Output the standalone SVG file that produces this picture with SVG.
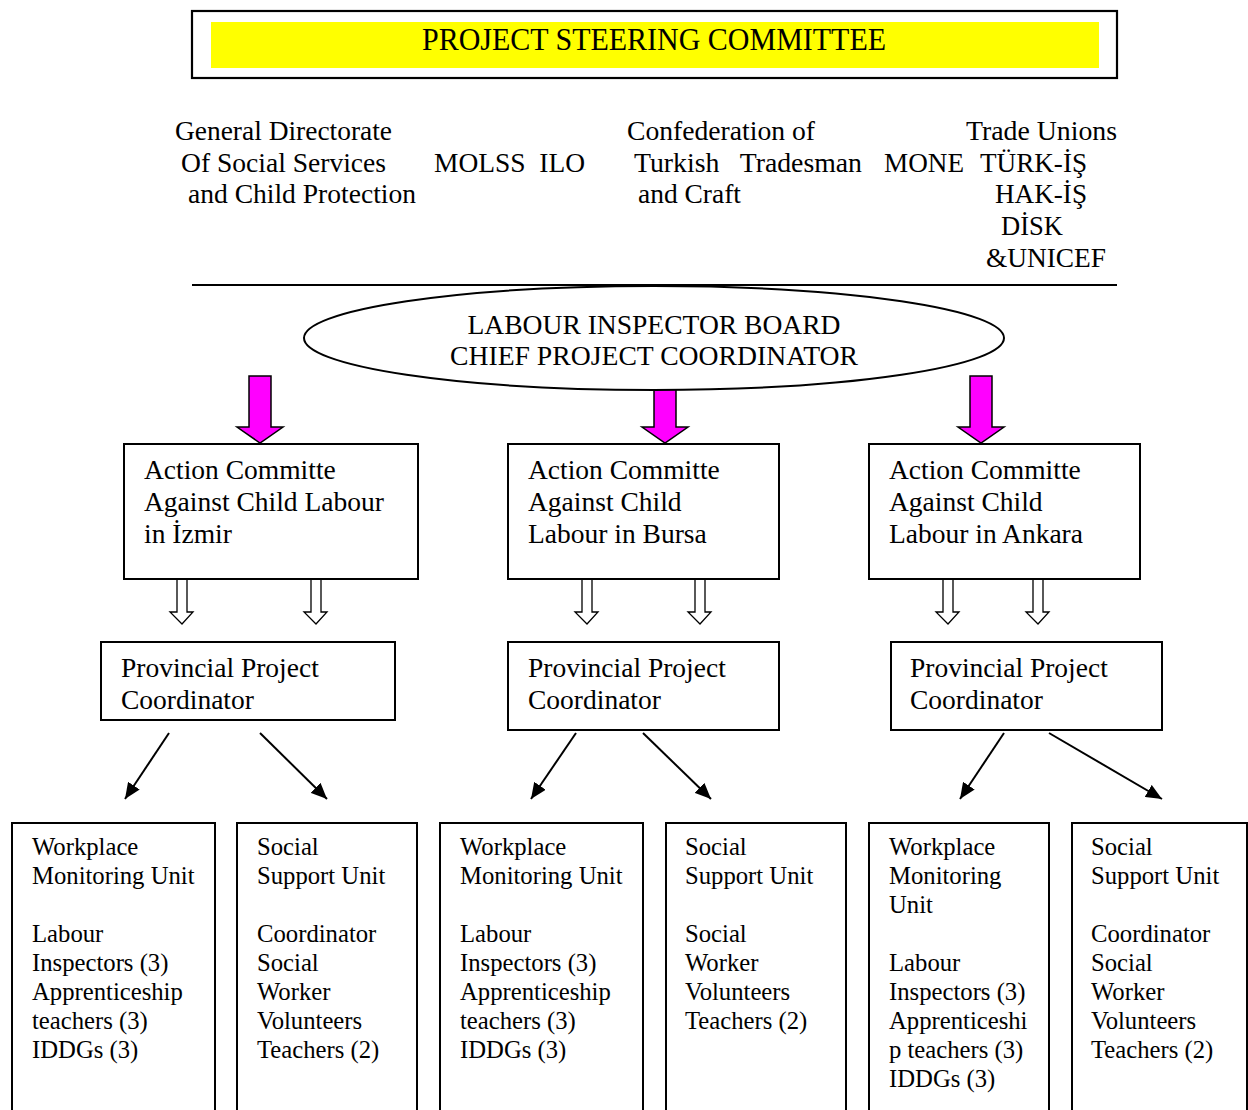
<svg xmlns="http://www.w3.org/2000/svg" width="1248" height="1110" viewBox="0 0 1248 1110" font-family="'Liberation Serif', 'Times New Roman', Times, 'DejaVu Serif', serif">
<style>
text{font-family:'Liberation Serif','Times New Roman',Times,'DejaVu Serif',serif;fill:#000}
.h{font-size:27px}
.t{font-size:27.5px}
.s{font-size:24.7px}
.box{fill:#fff;stroke:#000;stroke-width:2}
.mag{fill:#ff00ff;stroke:#000;stroke-width:1.5}
.hol{fill:#fff;stroke:#000;stroke-width:1.3}
.ln{stroke:#000;stroke-width:2;fill:none}
</style>
<defs>
<marker id="ah" markerUnits="userSpaceOnUse" markerWidth="18" markerHeight="14" refX="16" refY="7" orient="auto">
<path d="M0,0 L16,7 L0,14 Z" fill="#000"/>
</marker>
</defs>
<rect width="1248" height="1110" fill="#fff"/>

<g id="steering">
<rect x="192" y="11" width="925" height="67" fill="#fff" stroke="#000" stroke-width="2.2"/>
<rect x="211" y="22" width="888" height="46" fill="#ffff00"/>
<text x="422" y="50" font-size="32" textLength="464" lengthAdjust="spacingAndGlyphs">PROJECT STEERING COMMITTEE</text>
</g>

<g id="members" class="h">
<text class="h" x="175" y="140" textLength="217" lengthAdjust="spacingAndGlyphs">General Directorate</text>
<text class="h" x="181" y="172" textLength="205" lengthAdjust="spacingAndGlyphs">Of Social Services</text>
<text class="h" x="188" y="203" textLength="228" lengthAdjust="spacingAndGlyphs">and Child Protection</text>
<text class="h" x="434" y="172" textLength="151" lengthAdjust="spacingAndGlyphs" xml:space="preserve">MOLSS  ILO</text>
<text class="h" x="627" y="140" textLength="188" lengthAdjust="spacingAndGlyphs">Confederation of</text>
<text class="h" x="634" y="172" textLength="228" lengthAdjust="spacingAndGlyphs" xml:space="preserve">Turkish   Tradesman</text>
<text class="h" x="638" y="203" textLength="103" lengthAdjust="spacingAndGlyphs">and Craft</text>
<text class="h" x="884" y="172" textLength="80" lengthAdjust="spacingAndGlyphs">MONE</text>
<text class="h" x="966" y="140" textLength="151" lengthAdjust="spacingAndGlyphs">Trade Unions</text>
<text class="h" x="980" y="172" textLength="107" lengthAdjust="spacingAndGlyphs">TÜRK-İŞ</text>
<text class="h" x="995" y="203" textLength="92" lengthAdjust="spacingAndGlyphs">HAK-İŞ</text>
<text class="h" x="1001" y="235" textLength="62" lengthAdjust="spacingAndGlyphs">DİSK</text>
<text class="h" x="986" y="267" textLength="120" lengthAdjust="spacingAndGlyphs">&amp;UNICEF</text>
</g>

<g id="connectors">
<line x1="192" y1="285" x2="1117" y2="285" stroke="#000" stroke-width="2"/>
<polygon class="mag" points="249,376 271,376 271,427 283,427 260,443 237,427 249,427"/>
<polygon class="mag" points="654,380 676,380 676,427 688,427 665,443 642,427 654,427"/>
<polygon class="mag" points="970,376 992,376 992,427 1004,427 981,443 958,427 970,427"/>

<polygon class="hol" points="177,579 187,579 187,612 193,612 182,624 170,612 177,612"/>
<polygon class="hol" points="311,579 321,579 321,612 327,612 316,624 304,612 311,612"/>
<polygon class="hol" points="582,579 592,579 592,612 598,612 587,624 575,612 582,612"/>
<polygon class="hol" points="695,579 705,579 705,612 711,612 700,624 688,612 695,612"/>
<polygon class="hol" points="943,579 953,579 953,612 959,612 948,624 936,612 943,612"/>
<polygon class="hol" points="1033,579 1043,579 1043,612 1049,612 1038,624 1026,612 1033,612"/>

<line class="ln" x1="169" y1="733" x2="125" y2="799" marker-end="url(#ah)"/>
<line class="ln" x1="260" y1="733" x2="327" y2="799" marker-end="url(#ah)"/>
<line class="ln" x1="576" y1="733" x2="531" y2="799" marker-end="url(#ah)"/>
<line class="ln" x1="643" y1="733" x2="711" y2="799" marker-end="url(#ah)"/>
<line class="ln" x1="1004" y1="733" x2="960" y2="799" marker-end="url(#ah)"/>
<line class="ln" x1="1049" y1="733" x2="1162" y2="799" marker-end="url(#ah)"/>
</g>

<g id="board">
<ellipse cx="654" cy="338" rx="350" ry="52" fill="#fff" stroke="#000" stroke-width="2"/>
<text class="t" x="654" y="334" text-anchor="middle" textLength="373" lengthAdjust="spacingAndGlyphs">LABOUR INSPECTOR BOARD</text>
<text class="t" x="654" y="365" text-anchor="middle" textLength="408" lengthAdjust="spacingAndGlyphs">CHIEF PROJECT COORDINATOR</text>
</g>

<g id="action-izmir">
<rect class="box" x="124" y="444" width="294" height="135"/>
<text class="t" x="144" y="479">Action Committe</text>
<text class="t" x="144" y="511">Against Child Labour</text>
<text class="t" x="144" y="543">in İzmir</text>
</g>
<g id="action-bursa">
<rect class="box" x="508" y="444" width="271" height="135"/>
<text class="t" x="528" y="479">Action Committe</text>
<text class="t" x="528" y="511">Against Child</text>
<text class="t" x="528" y="543">Labour in Bursa</text>
</g>
<g id="action-ankara">
<rect class="box" x="869" y="444" width="271" height="135"/>
<text class="t" x="889" y="479">Action Committe</text>
<text class="t" x="889" y="511">Against Child</text>
<text class="t" x="889" y="543">Labour in Ankara</text>
</g>

<g id="ppc-izmir">
<rect class="box" x="101" y="642" width="294" height="78"/>
<text class="t" x="121" y="677">Provincial Project</text>
<text class="t" x="121" y="709">Coordinator</text>
</g>
<g id="ppc-bursa">
<rect class="box" x="508" y="642" width="271" height="88"/>
<text class="t" x="528" y="677">Provincial Project</text>
<text class="t" x="528" y="709">Coordinator</text>
</g>
<g id="ppc-ankara">
<rect class="box" x="891" y="642" width="271" height="88"/>
<text class="t" x="910" y="677">Provincial Project</text>
<text class="t" x="910" y="709">Coordinator</text>
</g>

<g id="wmu-izmir">
<rect class="box" x="12" y="823" width="203" height="300"/>
<text class="s" x="32" y="855">Workplace</text>
<text class="s" x="32" y="884">Monitoring Unit</text>
<text class="s" x="32" y="942">Labour</text>
<text class="s" x="32" y="971">Inspectors (3)</text>
<text class="s" x="32" y="1000">Apprenticeship</text>
<text class="s" x="32" y="1029">teachers (3)</text>
<text class="s" x="32" y="1058">IDDGs (3)</text>
</g>
<g id="ssu-izmir">
<rect class="box" x="237" y="823" width="180" height="300"/>
<text class="s" x="257" y="855">Social</text>
<text class="s" x="257" y="884">Support Unit</text>
<text class="s" x="257" y="942">Coordinator</text>
<text class="s" x="257" y="971">Social</text>
<text class="s" x="257" y="1000">Worker</text>
<text class="s" x="257" y="1029">Volunteers</text>
<text class="s" x="257" y="1058">Teachers (2)</text>
</g>
<g id="wmu-bursa">
<rect class="box" x="440" y="823" width="203" height="300"/>
<text class="s" x="460" y="855">Workplace</text>
<text class="s" x="460" y="884">Monitoring Unit</text>
<text class="s" x="460" y="942">Labour</text>
<text class="s" x="460" y="971">Inspectors (3)</text>
<text class="s" x="460" y="1000">Apprenticeship</text>
<text class="s" x="460" y="1029">teachers (3)</text>
<text class="s" x="460" y="1058">IDDGs (3)</text>
</g>
<g id="ssu-bursa">
<rect class="box" x="666" y="823" width="180" height="300"/>
<text class="s" x="685" y="855">Social</text>
<text class="s" x="685" y="884">Support Unit</text>
<text class="s" x="685" y="942">Social</text>
<text class="s" x="685" y="971">Worker</text>
<text class="s" x="685" y="1000">Volunteers</text>
<text class="s" x="685" y="1029">Teachers (2)</text>
</g>
<g id="wmu-ankara">
<rect class="box" x="869" y="823" width="180" height="300"/>
<text class="s" x="889" y="855">Workplace</text>
<text class="s" x="889" y="884">Monitoring</text>
<text class="s" x="889" y="913">Unit</text>
<text class="s" x="889" y="971">Labour</text>
<text class="s" x="889" y="1000">Inspectors (3)</text>
<text class="s" x="889" y="1029">Apprenticeshi</text>
<text class="s" x="889" y="1058">p teachers (3)</text>
<text class="s" x="889" y="1087">IDDGs (3)</text>
</g>
<g id="ssu-ankara">
<rect class="box" x="1072" y="823" width="175" height="300"/>
<text class="s" x="1091" y="855">Social</text>
<text class="s" x="1091" y="884">Support Unit</text>
<text class="s" x="1091" y="942">Coordinator</text>
<text class="s" x="1091" y="971">Social</text>
<text class="s" x="1091" y="1000">Worker</text>
<text class="s" x="1091" y="1029">Volunteers</text>
<text class="s" x="1091" y="1058">Teachers (2)</text>
</g>
</svg>
